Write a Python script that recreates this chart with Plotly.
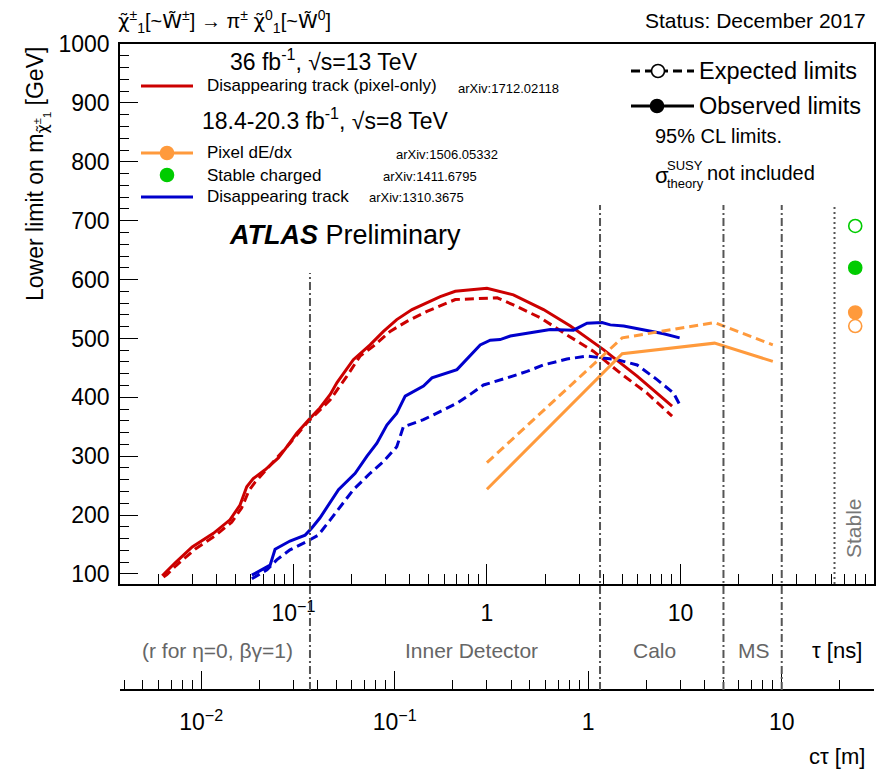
import math
import plotly.graph_objects as go

# ---------------- data (tau in ns, mass in GeV) ----------------
red_obs_tau = [0.021, 0.0217, 0.0245, 0.030, 0.0386, 0.047, 0.053, 0.0574, 0.062, 0.0714, 0.0836,
               0.0924, 0.104, 0.12, 0.137, 0.155, 0.168, 0.204, 0.249, 0.292, 0.342, 0.41, 0.49,
               0.574, 0.686, 0.85, 1.0, 1.37, 1.96, 2.7, 4.0, 5.97, 9.05]
red_obs_m = [97, 102, 119, 146, 169, 192, 217, 248, 262, 277, 297,
             316, 339, 362, 382, 405, 425, 464, 489, 512, 532, 549, 560,
             571, 580, 583, 585, 574, 549, 521, 481, 436, 385]

red_exp_tau = [0.0213, 0.0222, 0.0247, 0.031, 0.0394, 0.048, 0.054, 0.059, 0.0634, 0.070, 0.079,
               0.096, 0.117, 0.132, 0.155, 0.189, 0.221, 0.259, 0.316, 0.386, 0.49, 0.686, 1.0,
               1.13, 1.37, 1.89, 2.59, 3.56, 4.89, 6.72, 9.05]
red_exp_m = [95, 99, 114, 142, 165, 188, 212, 242, 256, 271, 291,
             322, 356, 373, 396, 436, 470, 487, 512, 529, 546, 566, 569,
             569, 557, 535, 506, 478, 441, 407, 368]

blue_obs_tau = [0.061, 0.0758, 0.0804, 0.096, 0.115, 0.1245, 0.137, 0.152, 0.171, 0.2085, 0.24,
                0.27, 0.304, 0.342, 0.378, 0.47, 0.52, 0.70, 0.82, 0.923, 1.04, 1.17, 1.32,
                1.675, 2.125, 2.8, 3.29, 3.93, 4.34, 5.09, 6.45, 8.19, 9.9]
blue_obs_m = [98, 115, 142, 156, 166, 178, 195, 217, 243, 271, 300,
              322, 353, 373, 402, 419, 433, 447, 470, 489, 497, 498, 504,
              509, 515, 514, 526, 527, 523, 521, 515, 508, 501]

blue_exp_tau = [0.061, 0.073, 0.082, 0.096, 0.117, 0.1346, 0.155, 0.174, 0.204, 0.249, 0.292,
                0.342, 0.37, 0.47, 0.574, 0.70, 0.82, 0.96, 1.27, 1.61, 1.96, 2.59, 3.29,
                4.0, 4.7, 5.97, 7.57, 9.22, 10.0]
blue_exp_m = [92, 107, 124, 141, 155, 166, 192, 214, 243, 271, 291,
              316, 350, 362, 376, 390, 405, 421, 433, 444, 455, 465, 470,
              467, 464, 455, 430, 407, 385]

orange_tau = [1, 5, 15, 30]
orange_obs_m = [244, 474, 492, 461]
orange_exp_m = [289, 501, 527, 489]

stable_tau = [80]
stable_green_obs = [620]
stable_green_exp = [691]
stable_orange_obs = [544]
stable_orange_exp = [521]

# detector boundaries (tau, ns): pixel, ID, calo, MS ; and "stable" boundary
boundary_tau = [0.1218, 3.84, 16.68, 33.36]
stable_boundary_tau = 62.5

tau_tickvals = [0.1, 1, 10]
tau_ticktext = ["10<sup>\u22121</sup>", "1", "10"]
ctau_tickvals = [0.01, 0.1, 1, 10]
ctau_ticktext = ["10<sup>\u22122</sup>", "10<sup>\u22121</sup>", "1", "10"]
C_M_PER_NS = 0.299792458

# ---------------- styling ----------------
FONT = "Liberation Sans, Arial, Helvetica, sans-serif"
RED = "#CC0000"
BLUE = "#0000CC"
ORANGE = "#FF9A3C"
GREEN = "#00CC00"
DASH = "9px,5px"

# the page body adds an 8px offset; lay out the figure so it lands where wanted
OFF = 8
W, H = 885 - OFF, 772 - OFF
ML, MR, MT, MB = 112, 11, 36, 82
PW, PH = W - ML - MR, H - MT - MB


def px(x):
    return (x - OFF - ML) / PW


def py(y):
    return (H - MB - (y - OFF)) / PH


plot_bottom_px = 584
ydom0 = py(plot_bottom_px)

tau_lo, tau_hi = -1.896, 2.0

fig = go.Figure()


def line_trace(x, y, color, dash=None):
    fig.add_trace(go.Scatter(x=x, y=y, mode="lines",
                             line=dict(color=color, width=3, dash=dash),
                             showlegend=False, hoverinfo="skip"))


line_trace(red_exp_tau, red_exp_m, RED, DASH)
line_trace(red_obs_tau, red_obs_m, RED)
line_trace(blue_exp_tau, blue_exp_m, BLUE, DASH)
line_trace(blue_obs_tau, blue_obs_m, BLUE)
line_trace(orange_tau, orange_exp_m, ORANGE, DASH)
line_trace(orange_tau, orange_obs_m, ORANGE)

for yv, col, sym in [(stable_green_exp, GREEN, "circle-open"), (stable_green_obs, GREEN, "circle"),
                     (stable_orange_obs, ORANGE, "circle"), (stable_orange_exp, ORANGE, "circle-open")]:
    fig.add_trace(go.Scatter(x=stable_tau, y=yv, mode="markers",
                             marker=dict(symbol=sym, size=13, color=col, line=dict(color=col, width=1.6)),
                             showlegend=False, hoverinfo="skip"))

# dummy trace to activate the c*tau axis
fig.add_trace(go.Scatter(x=[1], y=[None], xaxis="x2", yaxis="y", mode="lines",
                         showlegend=False, hoverinfo="skip"))


def minor_vals(lo, hi):
    out = []
    for e in range(-4, 4):
        for k in range(2, 10):
            v = k * 10 ** e
            if lo <= v <= hi:
                out.append(v)
    return out


tau_min, tau_max = 10 ** tau_lo, 10 ** tau_hi
ctau_lo = math.log10(tau_min * C_M_PER_NS)
ctau_hi = math.log10(tau_max * C_M_PER_NS)

fig.update_layout(
    width=W, height=H,
    margin=dict(l=ML, r=MR, t=MT, b=MB, autoexpand=False),
    paper_bgcolor="white", plot_bgcolor="white",
    font=dict(family=FONT, color="black"),
    xaxis=dict(type="log", range=[tau_lo, tau_hi], showgrid=False, zeroline=False, automargin=False,
               showline=True, linecolor="black", linewidth=1.5, mirror=True,
               ticks="inside", ticklen=20, tickwidth=1.2, tickcolor="black",
               tickvals=tau_tickvals, ticktext=tau_ticktext,
               tickfont=dict(size=23, family=FONT), ticklabelstandoff=8,
               minor=dict(tickvals=minor_vals(tau_min, tau_max), ticks="inside", ticklen=10,
                          tickwidth=1.2, tickcolor="black"),
               anchor="y"),
    xaxis2=dict(type="log", range=[ctau_lo, ctau_hi], overlaying="x", anchor="free", position=0,
                side="bottom", showgrid=False, zeroline=False, automargin=False,
                showline=True, linecolor="black", linewidth=1.5,
                ticks="inside", ticklen=18, tickwidth=1.2, tickcolor="black",
                tickvals=ctau_tickvals, ticktext=ctau_ticktext,
                tickfont=dict(size=23, family=FONT), ticklabelstandoff=12,
                minor=dict(tickvals=minor_vals(10 ** ctau_lo, 10 ** ctau_hi), ticks="inside",
                           ticklen=9, tickwidth=1.2, tickcolor="black")),
    yaxis=dict(range=[83, 1000], domain=[ydom0, 1], showgrid=False, zeroline=False, automargin=False,
               showline=True, linecolor="black", linewidth=1.5, mirror=True,
               ticks="inside", ticklen=18, tickwidth=1.2, tickcolor="black",
               tickvals=list(range(100, 1001, 100)),
               tickfont=dict(size=23, family=FONT), ticklabelstandoff=4,
               minor=dict(dtick=20, ticks="inside", ticklen=9, tickwidth=1.2, tickcolor="black")),
)

shapes = []
tops = [py(273), py(205), py(205), py(205)]
for b, top in zip(boundary_tau, tops):
    shapes.append(dict(type="line", xref="x", yref="paper", x0=b, x1=b, y0=0, y1=top,
                       line=dict(color="#555555", width=2, dash="8px,3px,2px,3px")))
shapes.append(dict(type="line", xref="x", yref="paper", x0=stable_boundary_tau, x1=stable_boundary_tau,
                   y0=ydom0, y1=py(205), line=dict(color="#555555", width=2, dash="2px,3px")))


def hline(x0, x1, y, color, dash=None):
    shapes.append(dict(type="line", xref="paper", yref="paper", x0=px(x0), x1=px(x1), y0=py(y), y1=py(y),
                       line=dict(color=color, width=3, dash=dash)))


def circle(x, y, color, filled=True, r=6.5):
    shapes.append(dict(type="circle", xref="paper", yref="paper", xsizemode="pixel", ysizemode="pixel",
                       xanchor=px(x), yanchor=py(y), x0=-r, x1=r, y0=-r, y1=r,
                       fillcolor=color if filled else "white", line=dict(color=color, width=1.6)))


hline(141, 193, 86, RED)
hline(141, 193, 153, ORANGE)
circle(167, 153, ORANGE)
circle(167, 175, GREEN)
hline(141, 193, 197, BLUE)
hline(631, 694, 71, "black", DASH)
circle(658, 71, "black", filled=False)
hline(631, 694, 106, "black")
circle(657, 106, "black")

fig.update_layout(shapes=shapes)

ann = []


def text(t, x, y, size, xanchor="left", color="black", angle=0, yanchor="middle"):
    ann.append(dict(text=t, x=px(x), y=py(y), xref="paper", yref="paper", showarrow=False,
                    xanchor=xanchor, yanchor=yanchor, textangle=angle,
                    font=dict(size=size, color=color, family=FONT)))


CHI = "<span style='font-family:DejaVu Sans'>\u03c7\u0303</span>"
WT = "<span style='font-family:DejaVu Sans'>W\u0303</span>"

text(CHI + "<sup>\u00b1</sup><sub>1</sub>[~" + WT + "<sup>\u00b1</sup>] \u2192 \u03c0<sup>\u00b1</sup> "
     + CHI + "<sup>0</sup><sub>1</sub>[~" + WT + "<sup>0</sup>]", 116, 21, 20)
text("Status: December 2017", 868, 20, 21, xanchor="right")
text("36 fb<sup>-1</sup>, \u221as=13 TeV", 324, 60, 23, xanchor="center")
text("Disappearing track (pixel-only)", 205, 86, 17)
text("arXiv:1712.02118", 456, 88, 13)
text("18.4-20.3 fb<sup>-1</sup>, \u221as=8 TeV", 325, 119, 23, xanchor="center")
text("Pixel dE/dx", 205, 153, 17)
text("arXiv:1506.05332", 394, 154, 13)
text("Stable charged", 205, 175, 17)
text("arXiv:1411.6795", 381, 176, 13)
text("Disappearing track", 205, 197, 17)
text("arXiv:1310.3675", 367, 198, 13)
text("<b><i>ATLAS</i></b> Preliminary", 227, 235, 27)
text("Expected limits", 697, 71, 23.5)
text("Observed limits", 697, 106, 23.5)
text("95% CL limits.", 653, 136, 20)
text("\u03c3", 653, 175, 22)
text("SUSY", 665, 166, 13)
text("theory", 665, 183, 13)
text("not included", 705, 173, 20)
text("Stable", 853, 528, 21, xanchor="center", color="#777777", angle=-90)
text("(r for \u03b7=0, \u03b2\u03b3=1)", 217, 650, 21, xanchor="center", color="#666666")
text("Inner Detector", 471, 650, 21, xanchor="center", color="#666666")
text("Calo", 654, 650, 21, xanchor="center", color="#666666")
text("MS", 754, 650, 21, xanchor="center", color="#666666")
text("\u03c4 [ns]", 837, 650, 22, xanchor="center")
text("c\u03c4 [m]", 867, 756, 22, xanchor="right")
text("Lower limit on m<sub>" + CHI + "<sup>\u00b1</sup><sub>1</sub></sub> [GeV]", 37, 45, 23,
     xanchor="center", yanchor="top", angle=-90)

fig.update_layout(annotations=ann)

fig.write_html("out.html")
